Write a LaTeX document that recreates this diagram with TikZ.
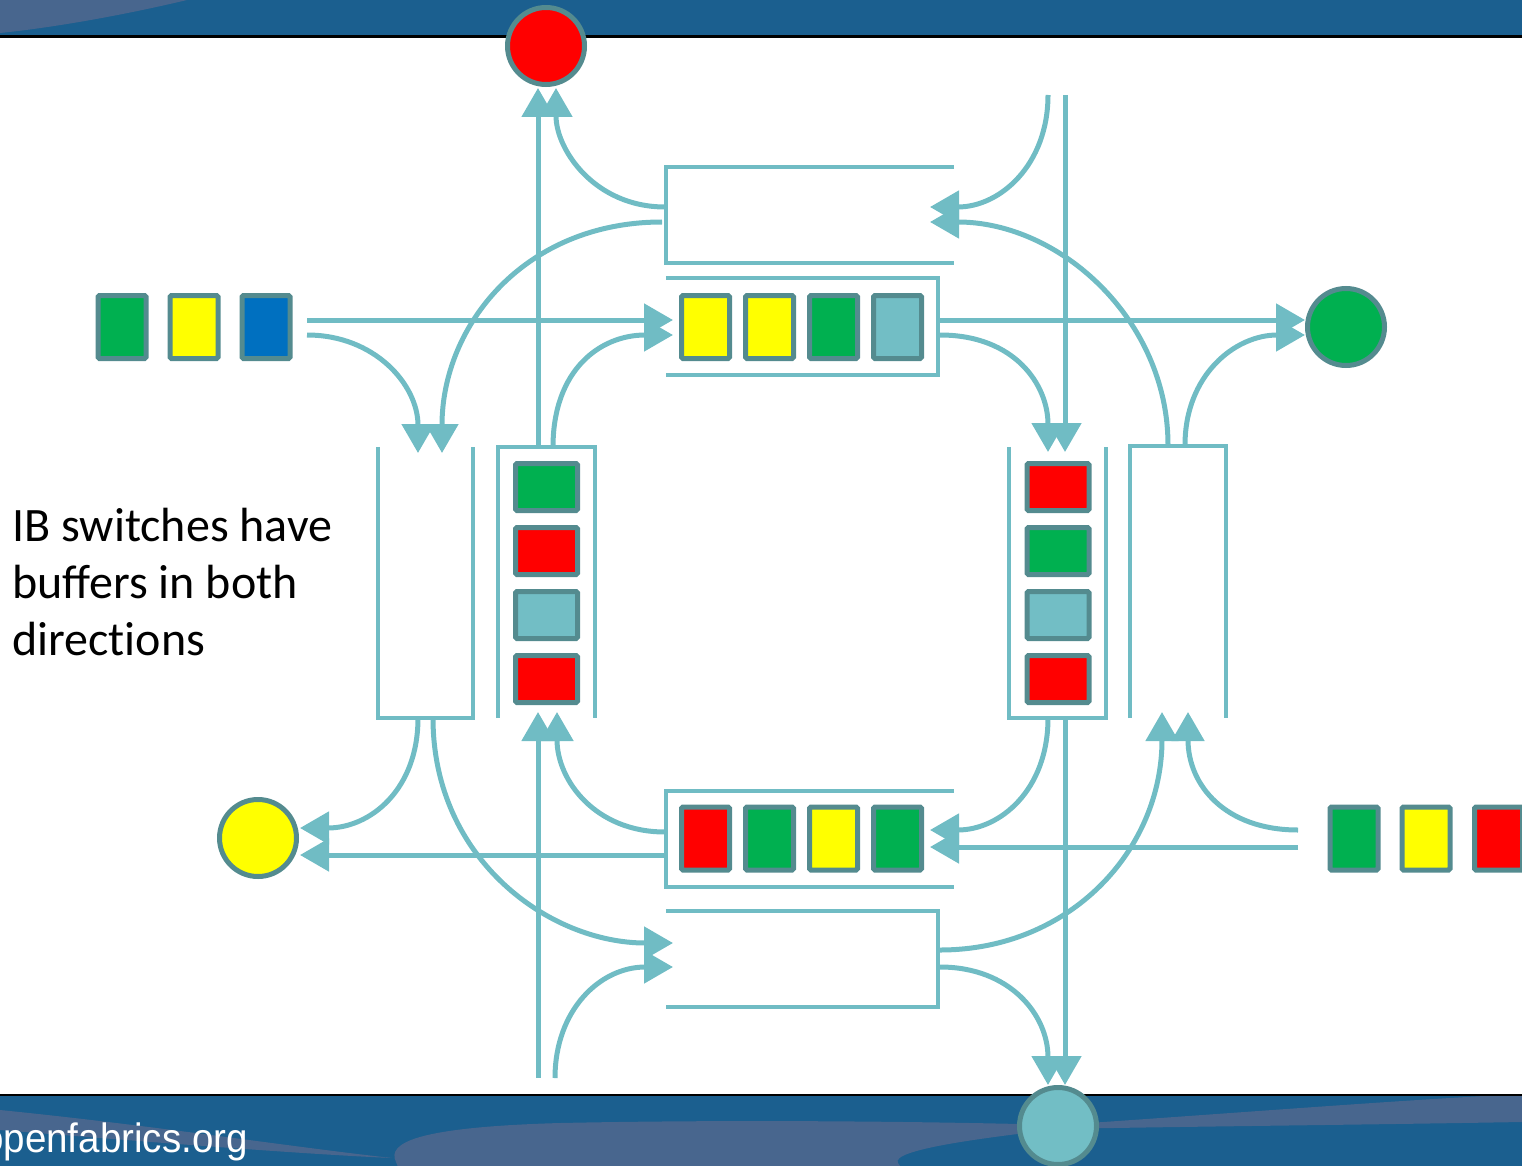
\documentclass[tikz,border=0pt]{standalone}
\usepackage{graphicx}
\usepackage{fontspec}
\setmainfont{Carlito}
\newfontfamily\footfont{Liberation Sans}
\usetikzlibrary{arrows.meta}

\definecolor{bannerblue}{HTML}{1B5F8F}
\definecolor{swoosh}{HTML}{48668E}
\definecolor{flowcol}{HTML}{70BCC4}
\definecolor{pktedge}{HTML}{548B8F}
\definecolor{pktteal}{HTML}{72BEC5}
\definecolor{pktgreen}{HTML}{00B050}
\definecolor{pktyellow}{HTML}{FFFF00}
\definecolor{pktred}{HTML}{FF0000}
\definecolor{pktblue}{HTML}{0070C0}

\begin{document}
\begin{tikzpicture}[x=1pt,y=-1pt,
  flow/.style={draw=flowcol, line width=5pt, -{Triangle[length=29pt,width=32pt]}},
  bufwall/.style={draw=flowcol, line width=4.5pt, line join=miter},
  buf/.style={rectangle, draw=none, inner sep=0pt},
  pkt/.style={rectangle, draw=pktedge, line width=5pt, rounded corners=1.5pt,
              inner sep=0pt, minimum width=48pt, minimum height=63pt},
  vpkt/.style={pkt, minimum width=62pt, minimum height=47pt},
  host/.style={circle, draw=pktedge, line width=5pt, minimum size=77pt, inner sep=0pt},
]
\useasboundingbox (0,0) rectangle (1522,1166);

% ---- slide banners ----
\fill[bannerblue] (0,0) rectangle (1522,35);
\fill[swoosh] (0,0) -- (187,0) .. controls (120,16) and (50,28) .. (0,33) -- cycle;
\fill[black] (0,35) rectangle (1522,38.5);

\fill[bannerblue] (0,1095) rectangle (1522,1166);
\begin{scope}
  \clip (0,1095) rectangle (1522,1166);
  \fill[swoosh] (0,1110) .. controls (150,1125) and (300,1148) .. (392,1158)
     .. controls (300,1154) and (150,1142) .. (0,1130) -- cycle;
  \fill[swoosh] (396,1162) .. controls (386,1142) and (420,1127) .. (560,1123)
     .. controls (750,1119) and (950,1122) .. (1060,1125)
     .. controls (1250,1112) and (1400,1100) .. (1522,1094) -- (1522,1122)
     .. controls (1350,1125) and (1150,1127) .. (1060,1129)
     .. controls (980,1138) and (890,1150) .. (898,1163)
     .. controls (900,1167) and (905,1170) .. (910,1172) -- (400,1172) -- cycle;
\end{scope}
\draw[black, line width=1.5pt] (0,1095) -- (1522,1095);
\node[anchor=base west, inner sep=0pt, text=white,
      font=\footfont\fontsize{41pt}{41pt}\selectfont] (site) at (-18,1152)
      {\scalebox{0.94}[1]{openfabrics.org}};

% ---- caption (anchored on the baseline of its last line) ----
\node[anchor=base west, inner sep=0pt, align=left,
      font=\fontsize{48pt}{57pt}\selectfont] (note) at (12,655)
      {IB switches have\\buffers in both\\direct\kern0pt ions};

% ---- buffers (open on one side) ----
\node[buf, minimum width=288pt, minimum height=96pt] (bTopE) at (810,215) {};
\node[buf, minimum width=272pt, minimum height=97pt] (bTopP) at (802,326.5) {};
\node[buf, minimum width=95pt,  minimum height=271pt] (bLeftE) at (425.5,582.5) {};
\node[buf, minimum width=97pt,  minimum height=271pt] (bLeftP) at (546.5,582.5) {};
\node[buf, minimum width=97pt,  minimum height=271pt] (bRightP) at (1057.5,582.5) {};
\node[buf, minimum width=96pt,  minimum height=272pt] (bRightE) at (1178,582) {};
\node[buf, minimum width=288pt, minimum height=96pt] (bBotP) at (810,839) {};
\node[buf, minimum width=272pt, minimum height=96pt] (bBotE) at (802,959) {};

\draw[bufwall] (bTopE.north east) -- (bTopE.north west) -- (bTopE.south west) -- (bTopE.south east);
\draw[bufwall] (bTopP.north west) -- (bTopP.north east) -- (bTopP.south east) -- (bTopP.south west);
\draw[bufwall] (bLeftE.north west) -- (bLeftE.south west) -- (bLeftE.south east) -- (bLeftE.north east);
\draw[bufwall] (bLeftP.south west) -- (bLeftP.north west) -- (bLeftP.north east) -- (bLeftP.south east);
\draw[bufwall] (bRightP.north west) -- (bRightP.south west) -- (bRightP.south east) -- (bRightP.north east);
\draw[bufwall] (bRightE.south west) -- (bRightE.north west) -- (bRightE.north east) -- (bRightE.south east);
\draw[bufwall] (bBotP.north east) -- (bBotP.north west) -- (bBotP.south west) -- (bBotP.south east);
\draw[bufwall] (bBotE.north west) -- (bBotE.north east) -- (bBotE.south east) -- (bBotE.south west);

% ---- queued packets ----
\node[pkt, fill=pktyellow] (t1) at (705.5,327) {};
\node[pkt, fill=pktyellow] (t2) at (769.5,327) {};
\node[pkt, fill=pktgreen]  (t3) at (833.5,327) {};
\node[pkt, fill=pktteal]   (t4) at (897.5,327) {};

\node[pkt, fill=pktred]    (d1) at (705.5,838.5) {};
\node[pkt, fill=pktgreen]  (d2) at (769.5,838.5) {};
\node[pkt, fill=pktyellow] (d3) at (833.5,838.5) {};
\node[pkt, fill=pktgreen]  (d4) at (897.5,838.5) {};

\node[vpkt, fill=pktgreen] (l1) at (546.5,487) {};
\node[vpkt, fill=pktred]   (l2) at (546.5,551) {};
\node[vpkt, fill=pktteal]  (l3) at (546.5,615) {};
\node[vpkt, fill=pktred]   (l4) at (546.5,679) {};

\node[vpkt, fill=pktred]   (r1) at (1058,487) {};
\node[vpkt, fill=pktgreen] (r2) at (1058,551) {};
\node[vpkt, fill=pktteal]  (r3) at (1058,615) {};
\node[vpkt, fill=pktred]   (r4) at (1058,679) {};

% incoming packets
\node[pkt, fill=pktgreen]  (a1) at (122,327) {};
\node[pkt, fill=pktyellow] (a2) at (194,327) {};
\node[pkt, fill=pktblue]   (a3) at (266,327) {};

\node[pkt, fill=pktgreen]  (b1) at (1354,838.5) {};
\node[pkt, fill=pktyellow] (b2) at (1426,838.5) {};
\node[pkt, fill=pktred]    (b3) at (1498.5,838.5) {};

% ---- end nodes ----
\node[host, fill=pktred]    (hRed)    at (546,46) {};
\node[host, fill=pktgreen]  (hGreen)  at (1346,327) {};
\node[host, fill=pktyellow] (hYellow) at (258,838) {};
\node[host, fill=pktteal]   (hTeal)   at (1058,1126) {};

% ---- ports ----
\coordinate (inA) at (307,320);   \coordinate (inB) at (307,335);
\coordinate (inC) at (1298,847);  \coordinate (inD) at (1298,830);
\coordinate (topE1) at (665,207); \coordinate (topE2) at (662,222);
\coordinate (topEin1) at (930,207); \coordinate (topEin2) at (930,222);
\coordinate (topPin1) at (673,320); \coordinate (topPin2) at (673,335);
\coordinate (topPo1) at (940,320); \coordinate (topPo2) at (940,335);
\coordinate (botPo1) at (665,832); \coordinate (botPo2) at (666,855);
\coordinate (botPin1) at (930,830); \coordinate (botPin2) at (930,847);
\coordinate (botEin1) at (673,943); \coordinate (botEin2) at (673,967);
\coordinate (botEo1) at (940,950); \coordinate (botEo2) at (940,967);
\coordinate (lEin1) at (418,453); \coordinate (lEin2) at (442,453);
\coordinate (lEo1) at (418,718);  \coordinate (lEo2) at (433,718);
\coordinate (lPo1) at (538,447);  \coordinate (lPo2) at (553,447);
\coordinate (lPin1) at (538,712); \coordinate (lPin2) at (557,712);
\coordinate (rPin1) at (1048,452); \coordinate (rPin2) at (1065,452);
\coordinate (rPo1) at (1048,718); \coordinate (rPo2) at (1065,718);
\coordinate (rEo1) at (1168,445); \coordinate (rEo2) at (1185,445);
\coordinate (rEin1) at (1162,712); \coordinate (rEin2) at (1188,712);
\coordinate (redIn1) at (538,88); \coordinate (redIn2) at (556,88);
\coordinate (grnIn1) at (1305,320); \coordinate (grnIn2) at (1305,335);
\coordinate (ylwIn1) at (300,828); \coordinate (ylwIn2) at (300,855);
\coordinate (tealIn1) at (1048,1085); \coordinate (tealIn2) at (1065,1085);
\coordinate (srcN1) at (1048,95); \coordinate (srcN2) at (1065,95);
\coordinate (srcS1) at (538,1078); \coordinate (srcS2) at (555,1078);

% ---- connectors ----
\draw[flow] (inA) -- (topPin1);
\draw[flow] (inB) .. controls (375,335) and (418,385) .. (lEin1);
\draw[flow] (topE2) .. controls (525,222) and (442,325) .. (lEin2);
\draw[flow] (topE1) .. controls (595,207) and (556,150) .. (redIn2);
\draw[flow] (lPo1) -- (redIn1);
\draw[flow] (lPo2) .. controls (553,370) and (600,335) .. (topPin2);

\draw[flow] (srcN1) .. controls (1048,165) and (1000,207) .. (topEin1);
\draw[flow] (srcN2) -- (rPin2);
\draw[flow] (rEo1) .. controls (1168,320) and (1060,222) .. (topEin2);
\draw[flow] (topPo2) .. controls (1015,335) and (1048,385) .. (rPin1);
\draw[flow] (topPo1) -- (grnIn1);
\draw[flow] (rEo2) .. controls (1185,375) and (1235,335) .. (grnIn2);

\draw[flow] (inC) -- (botPin2);
\draw[flow] (inD) .. controls (1225,830) and (1188,785) .. (rEin2);
\draw[flow] (rPo1) .. controls (1048,790) and (1000,830) .. (botPin1);
\draw[flow] (botEo1) .. controls (1070,950) and (1162,850) .. (rEin1);
\draw[flow] (rPo2) -- (tealIn2);
\draw[flow] (botEo2) .. controls (1010,967) and (1048,1015) .. (tealIn1);

\draw[flow] (botPo2) -- (ylwIn2);
\draw[flow] (lEo1) .. controls (418,790) and (370,828) .. (ylwIn1);
\draw[flow] (botPo1) .. controls (595,832) and (557,780) .. (lPin2);
\draw[flow] (srcS1) -- (lPin1);
\draw[flow] (lEo2) .. controls (433,860) and (550,943) .. (botEin1);
\draw[flow] (srcS2) .. controls (555,1010) and (600,967) .. (botEin2);
\end{tikzpicture}
\end{document}
